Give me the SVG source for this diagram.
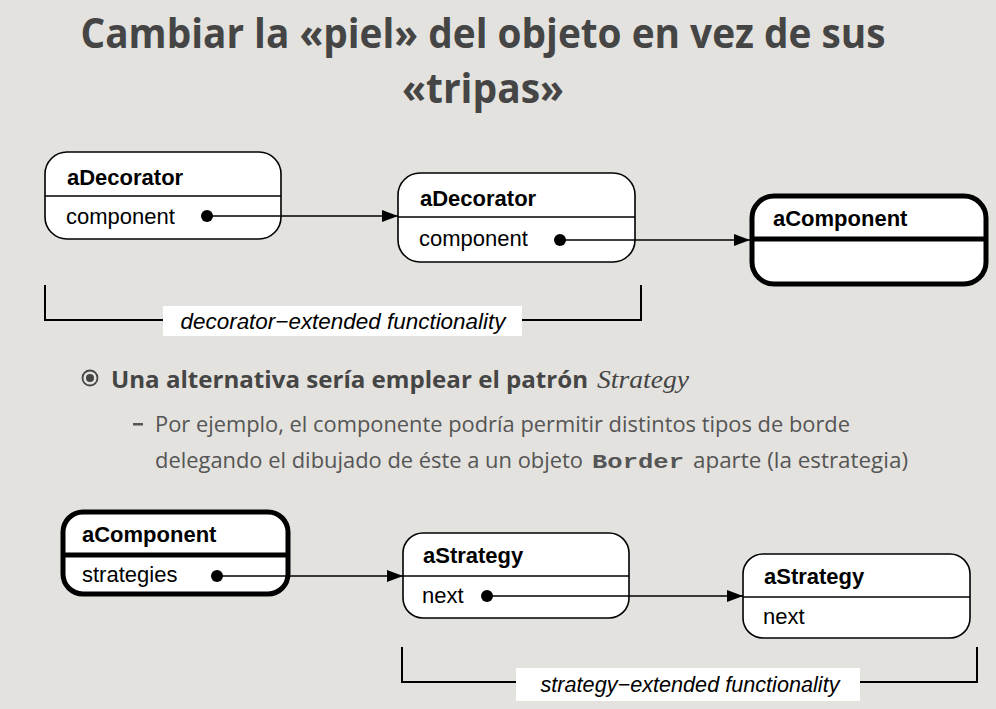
<svg xmlns="http://www.w3.org/2000/svg" width="996" height="709" viewBox="0 0 996 709">
<defs>
<style>
.node{fill:#fff;stroke:#000;stroke-width:1.6}
.thick{fill:#fff;stroke:#000;stroke-width:5}
.div{stroke:#000;stroke-width:1.6}
.divt{stroke:#000;stroke-width:5}
.ttl{font-family:"Liberation Sans",Arial,sans-serif;font-weight:bold;font-size:22px;fill:#000}
.attr{font-family:"Liberation Sans",Arial,sans-serif;font-size:22px;fill:#000}
.lbl{font-family:"Liberation Sans",Arial,sans-serif;font-style:italic;font-size:22px;fill:#000}
.conn{stroke:#000;stroke-width:1.6;fill:none}
.br{stroke:#000;stroke-width:2;fill:none}
.head{font-family:"Open Sans","Noto Sans",sans-serif;font-weight:bold;font-size:42px;fill:#454545}
.bul{font-family:"Open Sans","Noto Sans",sans-serif;font-weight:bold;font-size:24px;fill:#454545}
.sub{font-family:"Open Sans","Noto Sans",sans-serif;font-size:22px;fill:#555}
</style>
<marker id="arr" markerWidth="16" markerHeight="12" refX="16" refY="6" orient="auto" markerUnits="userSpaceOnUse">
<path d="M0,0 L16,6 L0,12 z" fill="#000"/>
</marker>
</defs>
<rect width="996" height="709" fill="#e3e2de"/>

<g id="title">
<text class="head" x="483" y="48" text-anchor="middle" textLength="805" lengthAdjust="spacingAndGlyphs">Cambiar la «piel» del objeto en vez de sus</text>
<text class="head" x="483" y="103" text-anchor="middle" textLength="162" lengthAdjust="spacingAndGlyphs">«tripas»</text>
</g>

<g id="decorator1">
<rect class="node" x="45" y="152" width="236" height="87" rx="22"/>
<line class="div" x1="45" y1="196" x2="281" y2="196"/>
<text class="ttl" x="67" y="185">aDecorator</text>
<text class="attr" x="66" y="224">component</text>
</g>

<g id="decorator2">
<rect class="node" x="398" y="173" width="237" height="89" rx="22"/>
<line class="div" x1="398" y1="217" x2="635" y2="217"/>
<text class="ttl" x="420" y="206">aDecorator</text>
<text class="attr" x="419" y="246">component</text>
</g>

<g id="component1">
<rect class="thick" x="752" y="196" width="234" height="88" rx="22"/>
<line class="divt" x1="752" y1="239" x2="986" y2="239"/>
<text class="ttl" x="773" y="226">aComponent</text>
</g>

<g id="decoratorBracket">
<polyline class="br" points="45,285 45,320 641,320 641,285"/>
<rect x="163" y="306" width="359" height="30" fill="#fff"/>
<text class="lbl" x="343" y="329" text-anchor="middle" textLength="325" lengthAdjust="spacingAndGlyphs">decorator−extended functionality</text>
</g>

<g id="bullets">
<circle cx="90" cy="378" r="7.5" fill="none" stroke="#454545" stroke-width="1.8"/>
<circle cx="90" cy="378" r="4" fill="#454545"/>
<text class="bul" x="111" y="388" textLength="477" lengthAdjust="spacingAndGlyphs">Una alternativa sería emplear el patrón</text>
<text x="597" y="388" font-family="Liberation Serif,Times New Roman,serif" font-style="italic" font-size="26px" fill="#454545" textLength="92" lengthAdjust="spacingAndGlyphs">Strategy</text>
<rect x="133" y="423" width="10" height="2.5" fill="#555"/>
<text class="sub" x="155" y="432" textLength="695" lengthAdjust="spacingAndGlyphs">Por ejemplo, el componente podría permitir distintos tipos de borde</text>
<text class="sub" x="155" y="468" textLength="428" lengthAdjust="spacingAndGlyphs">delegando el dibujado de éste a un objeto</text>
<text x="592" y="468" font-family="Liberation Mono,Courier New,monospace" font-weight="bold" font-size="21px" fill="#555" textLength="92" lengthAdjust="spacingAndGlyphs">Border</text>
<text class="sub" x="693" y="468" textLength="215" lengthAdjust="spacingAndGlyphs">aparte (la estrategia)</text>
</g>

<g id="component2">
<rect class="thick" x="63" y="512" width="225" height="82" rx="20"/>
<line class="divt" x1="63" y1="555" x2="288" y2="555"/>
<text class="ttl" x="82" y="542">aComponent</text>
<text class="attr" x="82" y="582">strategies</text>
</g>

<g id="strategy1">
<rect class="node" x="403" y="533" width="226" height="85" rx="20"/>
<line class="div" x1="403" y1="576" x2="629" y2="576"/>
<text class="ttl" x="423" y="563">aStrategy</text>
<text class="attr" x="422" y="603">next</text>
</g>

<g id="strategy2">
<rect class="node" x="743" y="554" width="227" height="84" rx="20"/>
<line class="div" x1="743" y1="597" x2="970" y2="597"/>
<text class="ttl" x="764" y="584">aStrategy</text>
<text class="attr" x="763" y="624">next</text>
</g>

<g id="strategyBracket">
<polyline class="br" points="402,647 402,682 977,682 977,647"/>
<rect x="516" y="668" width="344" height="33" fill="#fff"/>
<text class="lbl" x="690" y="692" text-anchor="middle" textLength="299" lengthAdjust="spacingAndGlyphs">strategy−extended functionality</text>
</g>

<g id="connectors">
<circle cx="207" cy="216" r="6" fill="#000"/>
<line class="conn" x1="207" y1="216" x2="398" y2="216" marker-end="url(#arr)"/>
<circle cx="560" cy="240" r="6" fill="#000"/>
<line class="conn" x1="560" y1="240" x2="750" y2="240" marker-end="url(#arr)"/>
<circle cx="217" cy="576" r="6" fill="#000"/>
<line class="conn" x1="217" y1="576" x2="403" y2="576" marker-end="url(#arr)"/>
<circle cx="487" cy="596" r="6" fill="#000"/>
<line class="conn" x1="487" y1="596" x2="743" y2="596" marker-end="url(#arr)"/>
</g>
</svg>
